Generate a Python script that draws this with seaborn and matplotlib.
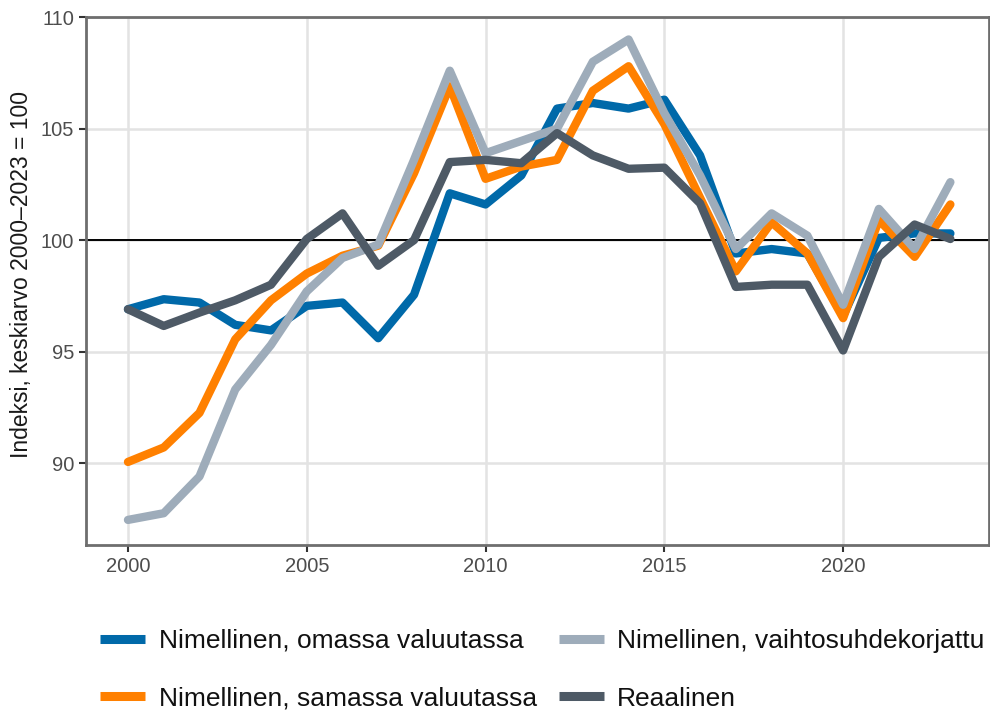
import numpy as np
import pandas as pd
import matplotlib
matplotlib.use("Agg")
import matplotlib.pyplot as plt
import seaborn as sns
from matplotlib.lines import Line2D

years = list(range(2000, 2024))
omassa = [96.9, 97.35, 97.2, 96.2, 95.95, 97.05, 97.2, 95.6, 97.55, 102.1, 101.6, 102.9,
          105.9, 106.15, 105.9, 106.3, 103.8, 99.4, 99.6, 99.4, 96.6, 100.1, 100.3, 100.3]
samassa = [90.05, 90.7, 92.25, 95.55, 97.3, 98.5, 99.3, 99.75, 103.0, 106.9, 102.75, 103.3,
           103.6, 106.7, 107.8, 105.2, 101.9, 98.6, 100.8, 99.4, 96.5, 100.9, 99.25, 101.6]
vaihtosuhde = [87.45, 87.75, 89.4, 93.3, 95.3, 97.7, 99.2, 99.8, 103.6, 107.6, 103.9, 104.45,
               105.0, 108.0, 109.0, 105.7, 102.9, 99.6, 101.2, 100.2, 97.1, 101.4, 99.6, 102.6]
reaalinen = [96.9, 96.15, 96.75, 97.3, 98.0, 100.05, 101.2, 98.85, 100.0, 103.5, 103.6, 103.45,
             104.8, 103.8, 103.2, 103.25, 101.65, 97.9, 98.0, 98.0, 95.05, 99.25, 100.7, 100.05]

labels = ["Nimellinen, omassa valuutassa", "Nimellinen, samassa valuutassa",
          "Nimellinen, vaihtosuhdekorjattu", "Reaalinen"]
colors = ["#0069a9", "#ff8000", "#9eacba", "#4e5a66"]
yticks = [90, 95, 100, 105, 110]
xticks = [2000, 2005, 2010, 2015, 2020]
ylabel = "Indeksi, keskiarvo 2000\u20132023 = 100"

frames = []
for lab, vals in zip(labels, [omassa, samassa, vaihtosuhde, reaalinen]):
    frames.append(pd.DataFrame({"Vuosi": years, "Arvo": vals, "Sarja": lab}))
df = pd.concat(frames, ignore_index=True)

sns.set_theme(style="whitegrid")
plt.rcParams["font.family"] = ["Liberation Sans", "DejaVu Sans"]

fig = plt.figure(figsize=(9.9, 7.16), dpi=100)
ax = fig.add_axes([0.087, 0.239, 0.912, 0.737])

ax.axhline(100, color="black", lw=1.4, zorder=1.5)
sns.lineplot(data=df, x="Vuosi", y="Arvo", hue="Sarja", hue_order=labels,
             palette=dict(zip(labels, colors)), lw=6, ax=ax, legend=False,
             zorder=3)

ax.set_xlim(1998.83, 2024.08)
ax.set_ylim(86.33, 110)
ax.set_xticks(xticks)
ax.set_yticks(yticks)
ax.set_xlabel("")
ax.set_ylabel(ylabel, fontsize=16.5, color="#1a1a1a")
ax.yaxis.set_label_coords(-0.059, 0.513)
ax.tick_params(axis="both", labelsize=14.5, colors="#333333", length=5, width=1.5,
               direction="out", bottom=True, left=True, pad=3.5)
for t in ax.get_xticklabels() + ax.get_yticklabels():
    t.set_color("#4d4d4d")
ax.grid(True, color="#e3e3e3", lw=1.8)
for s in ax.spines.values():
    s.set_visible(True)
    s.set_color("#6e6e6e")
    s.set_linewidth(2)

handles = [Line2D([0], [0], color=c, lw=6.5, solid_capstyle="butt") for c in colors]
fig.legend(handles, labels, loc="center", bbox_to_anchor=(0.548, 0.0645),
           ncol=2, frameon=False, fontsize=19, handlelength=1.7, handletextpad=0.5,
           columnspacing=0.85, labelspacing=1.28, labelcolor="#111111")

fig.savefig("out.png", dpi=100)
